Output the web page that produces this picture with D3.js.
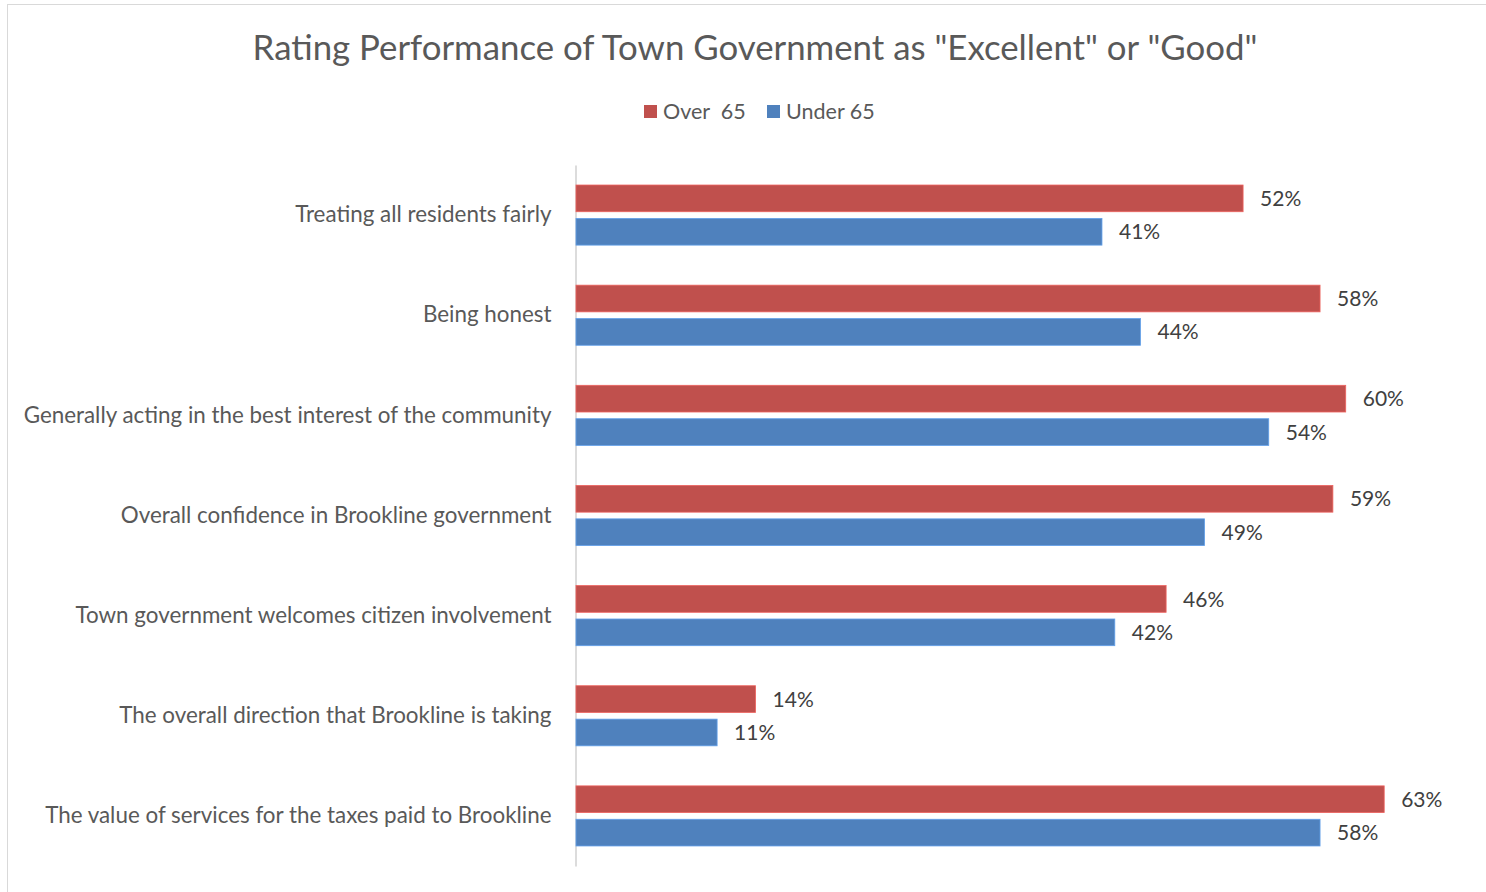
<!DOCTYPE html>
<html>
<head>
<meta charset="utf-8">
<script src="https://cdn.jsdelivr.net/npm/d3@7"></script>
<style>
  html, body { margin: 0; padding: 0; background: #fff; }
  svg { display: block; font-family: "Lato", "Open Sans", sans-serif; }
</style>
</head>
<body>
<svg id="chart" width="1486" height="892"></svg>
<script>
const categories = [
  "Treating all residents fairly",
  "Being honest",
  "Generally acting in the best interest of the community",
  "Overall confidence in Brookline government",
  "Town government welcomes citizen involvement",
  "The overall direction that Brookline is taking",
  "The value of services for the taxes paid to Brookline"
];
const over65 = [0.52, 0.58, 0.60, 0.59, 0.46, 0.14, 0.63];
const under65 = [0.41, 0.44, 0.54, 0.49, 0.42, 0.11, 0.58];
const seriesNames = ["Over  65", "Under 65"];
const seriesColors = ["#C0504D", "#4F81BD"];
const titleText = "Rating Performance of Town Government as \"Excellent\" or \"Good\"";

const svg = d3.select("#chart");
const W = 1486, H = 892;

// chart frame
svg.append("rect")
  .attr("x", 7.5).attr("y", 4.5)
  .attr("width", W + 10).attr("height", H + 10)
  .attr("fill", "#fff").attr("stroke", "#d9d9d9").attr("stroke-width", 1);

// title
svg.append("text")
  .attr("x", 755).attr("y", 60)
  .attr("text-anchor", "middle")
  .attr("fill", "#595959")
  .style("font-size", "34.8px")
  .text(titleText);

// legend
const legend = svg.append("g");
const legendItems = [
  { name: seriesNames[0], color: seriesColors[0], x: 644 },
  { name: seriesNames[1], color: seriesColors[1], x: 767 }
];
legendItems.forEach(d => {
  legend.append("rect")
    .attr("x", d.x).attr("y", 105).attr("width", 13).attr("height", 13)
    .attr("fill", d.color);
  legend.append("text")
    .attr("x", d.x + 19).attr("y", 119)
    .attr("fill", "#595959")
    .style("font-size", "21.5px")
    .style("white-space", "pre")
    .attr("xml:space", "preserve")
    .text(d.name);
});

// scales
const x = d3.scaleLinear().domain([0, 0.7]).range([576, 1474]);
const y = d3.scaleBand().domain(categories).range([165, 866]);
const barH = 26.7, barGap = 6.7;
const bandPad = (y.bandwidth() - 2 * barH - barGap) / 2;

// category axis
const yAxis = svg.append("g")
  .attr("transform", "translate(575.5,0)")
  .call(d3.axisLeft(y).tickSize(0).tickPadding(24));
yAxis.select(".domain").attr("stroke", "#d0d0d0").attr("stroke-width", 1.5);
yAxis.selectAll("text")
  .attr("fill", "#595959")
  .style("font-size", "22.4px")
  .style("font-family", "Lato, 'Open Sans', sans-serif");

const fmt = d3.format(".0%");
const series = [over65, under65];

series.forEach((vals, si) => {
  const g = svg.append("g");
  const yOff = bandPad + si * (barH + barGap);
  g.selectAll("rect")
    .data(categories.map((c, i) => ({ c, v: vals[i] })))
    .join("rect")
    .attr("x", x(0))
    .attr("y", d => y(d.c) + yOff)
    .attr("width", d => x(d.v) - x(0))
    .attr("height", barH)
    .attr("fill", seriesColors[si])
    .attr("stroke", d3.color(seriesColors[si]).brighter(0.6))
    .attr("stroke-width", 0.8);
  g.selectAll("text")
    .data(categories.map((c, i) => ({ c, v: vals[i] })))
    .join("text")
    .attr("x", d => x(d.v) + 17)
    .attr("y", d => y(d.c) + yOff + barH / 2)
    .attr("dy", "0.36em")
    .attr("fill", "#404040")
    .style("font-size", "21px")
    .text(d => fmt(d.v));
});
</script>
</body>
</html>
